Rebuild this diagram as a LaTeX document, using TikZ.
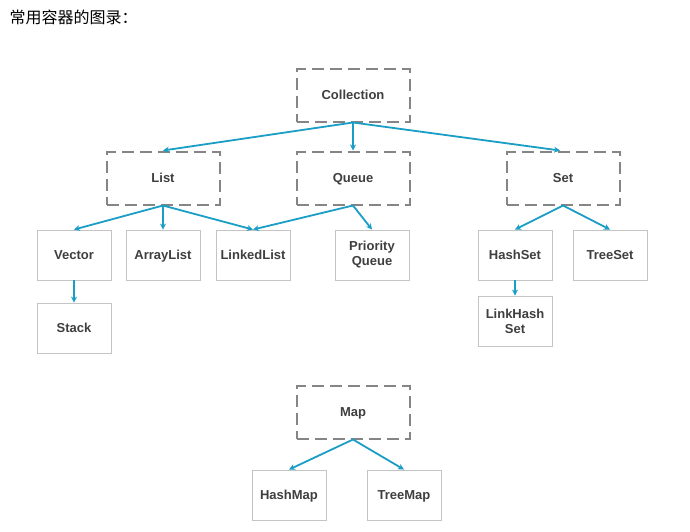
\documentclass[tikz,border=0pt]{standalone}
\usepackage{fontspec}
\setmainfont{Liberation Sans}
\newfontfamily\cjk{Noto Sans CJK SC}
\usepackage{xcolor}
\usetikzlibrary{arrows.meta, positioning}
\definecolor{linkblue}{HTML}{1A9EC6}
\definecolor{dashgray}{HTML}{858585}
\definecolor{boxgray}{HTML}{C4C4C4}
\definecolor{txtgray}{HTML}{3F3F3F}
\tikzset{
  iface/.style={rectangle, draw=dashgray, line width=2pt, dash pattern=on 12pt off 6pt,
    minimum width=113pt, minimum height=53pt, align=center, text=txtgray,
    text height=11pt, text depth=2pt, font=\fontsize{13}{15}\selectfont\bfseries},
  impl/.style={rectangle, draw=boxgray, line width=0.9pt, minimum width=74pt, minimum height=50pt,
    align=center, text=txtgray, font=\fontsize{13}{15}\selectfont\bfseries},
  oneline/.style={text height=11pt, text depth=2pt},
  arrow/.style={-{Stealth[length=6pt,width=6pt]}, linkblue, line width=1.8pt},
}

\begin{document}
\begin{tikzpicture}[x=1pt, y=-1pt]
    \useasboundingbox[fill=white] (0,0) rectangle (690,531);
    \node[anchor=west, text=black, font=\cjk\fontsize{16}{18}\selectfont] (title) at (6,17) {常用容器的图录：};

    \node[iface] (collection) at (353,95) {Collection};
    \node[iface] (list) at (163,178) {List};
    \node[iface] (queue) at (353,178) {Queue};
    \node[iface] (set) at (563,178) {Set};

    \node[impl, oneline] (vector) at (74,255) {Vector};
    \node[impl, oneline] (arraylist) at (163,255) {ArrayList};
    \node[impl, oneline] (linkedlist) at (253,255) {LinkedList};
    \node[impl] (priority) at (372,255) {Priority\\Queue};
    \node[impl, oneline] (hashset) at (515,255) {HashSet};
    \node[impl, oneline] (treeset) at (610,255) {TreeSet};
    \node[impl, oneline] (stack) at (74,328) {Stack};
    \node[impl] (linkhash) at (515,321) {LinkHash\\Set};

    \node[iface] (map) at (353,412) {Map};
    \node[impl, oneline] (hashmap) at (289,495) {HashMap};
    \node[impl, oneline] (treemap) at (404,495) {TreeMap};

    \draw[arrow] (collection.south) -- (list.north);
    \draw[arrow] (collection.south) -- (queue.north);
    \draw[arrow] (collection.south) -- ([xshift=-3pt]set.north);
    \draw[arrow] (list.south) -- (vector.north);
    \draw[arrow] (list.south) -- (arraylist.north);
    \draw[arrow] (list.south) -- (linkedlist.north);
    \draw[arrow] (queue.south) -- (linkedlist.north);
    \draw[arrow] (queue.south) -- (priority.north);
    \draw[arrow] (set.south) -- (hashset.north);
    \draw[arrow] (set.south) -- (treeset.north);
    \draw[arrow] (vector.south) -- (stack.north);
    \draw[arrow] (hashset.south) -- (linkhash.north);
    \draw[arrow] (map.south) -- (hashmap.north);
    \draw[arrow] (map.south) -- (treemap.north);
\end{tikzpicture}
\end{document}
